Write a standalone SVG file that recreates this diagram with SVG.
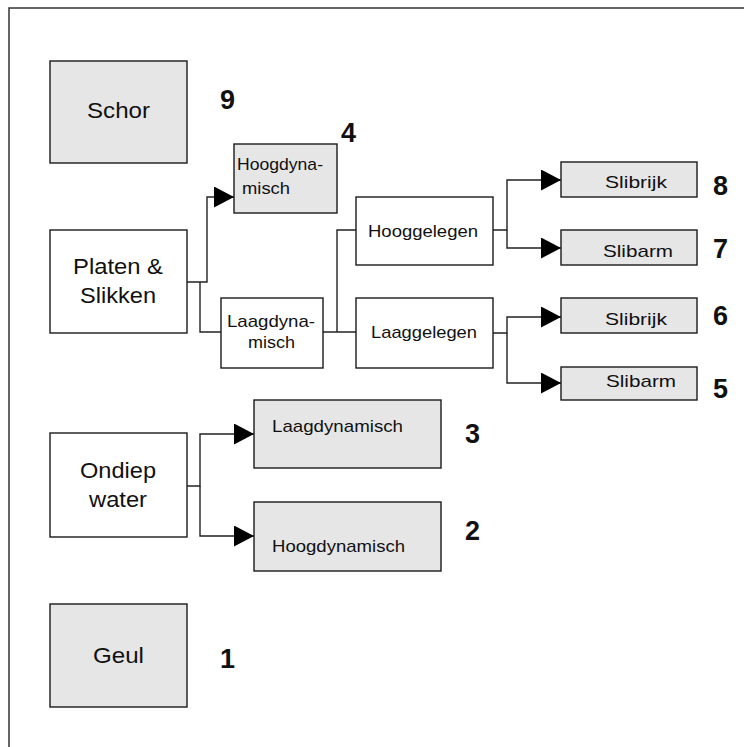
<svg xmlns="http://www.w3.org/2000/svg" width="744" height="747" viewBox="0 0 744 747">
<style>
.b{fill:#fff;stroke:#1a1a1a;stroke-width:1.4}
.g{fill:#e6e6e6;stroke:#1a1a1a;stroke-width:1.4}
.t{font-family:"Liberation Sans",Arial,sans-serif;fill:#111}
.s{font-size:17px}
.l{font-size:22px}
.n{font-family:"Liberation Sans",Arial,sans-serif;font-weight:bold;font-size:27px;fill:#111}
.c{fill:none;stroke:#222;stroke-width:1.4}
</style>
<defs>
<marker id="ah" markerWidth="20" markerHeight="21" refX="20" refY="10.5" orient="auto" markerUnits="userSpaceOnUse">
<path d="M0,0 L20,10.5 L0,21 Z" fill="#000"/>
</marker>
</defs>
<rect width="744" height="747" fill="#fff"/>
<path d="M9,747 V8 H744" fill="none" stroke="#333" stroke-width="1.5"/>
<g id="connectors">
<path class="c" d="M187,282 H207 V197 H234" marker-end="url(#ah)"/>
<path class="c" d="M200,282 V332 H221"/>
<path class="c" d="M323,332 H356"/>
<path class="c" d="M337,332 V230 H356"/>
<path class="c" d="M493,230 H507 V180 H561" marker-end="url(#ah)"/>
<path class="c" d="M507,230 V248 H561" marker-end="url(#ah)"/>
<path class="c" d="M493,333 H507 V317 H561" marker-end="url(#ah)"/>
<path class="c" d="M507,333 V383 H561" marker-end="url(#ah)"/>
<path class="c" d="M187,486 H200 V434 H254" marker-end="url(#ah)"/>
<path class="c" d="M200,486 V536 H254" marker-end="url(#ah)"/>
</g>
<g id="schor">
<rect class="g" x="50" y="61" width="137" height="102"/>
<text class="t l" x="87" y="118" textLength="63" lengthAdjust="spacingAndGlyphs">Schor</text>
<text class="n" x="220" y="109">9</text>
</g>
<g id="hoogdyna">
<rect class="g" x="234" y="144" width="103" height="69"/>
<text class="t s" x="237" y="170" textLength="86" lengthAdjust="spacingAndGlyphs">Hoogdyna-</text>
<text class="t s" x="242" y="194" textLength="48" lengthAdjust="spacingAndGlyphs">misch</text>
<text class="n" x="341" y="142">4</text>
</g>
<g id="platen">
<rect class="b" x="50" y="230" width="137" height="103"/>
<text class="t l" x="73" y="274" textLength="90" lengthAdjust="spacingAndGlyphs">Platen &amp;</text>
<text class="t l" x="80" y="303" textLength="76" lengthAdjust="spacingAndGlyphs">Slikken</text>
</g>
<g id="laagdyna">
<rect class="b" x="221" y="298" width="102" height="70"/>
<text class="t s" x="227" y="327" textLength="88" lengthAdjust="spacingAndGlyphs">Laagdyna-</text>
<text class="t s" x="248" y="348" textLength="47" lengthAdjust="spacingAndGlyphs">misch</text>
</g>
<g id="hooggelegen">
<rect class="b" x="356" y="197" width="137" height="68"/>
<text class="t s" x="368" y="237" textLength="110" lengthAdjust="spacingAndGlyphs">Hooggelegen</text>
</g>
<g id="laaggelegen">
<rect class="b" x="356" y="298" width="137" height="70"/>
<text class="t s" x="371" y="338" textLength="106" lengthAdjust="spacingAndGlyphs">Laaggelegen</text>
</g>
<g id="slibrijk8">
<rect class="g" x="561" y="162" width="136" height="35"/>
<text class="t s" x="605" y="188" textLength="62" lengthAdjust="spacingAndGlyphs">Slibrijk</text>
<text class="n" x="713" y="195">8</text>
</g>
<g id="slibarm7">
<rect class="g" x="561" y="230" width="136" height="35"/>
<text class="t s" x="603" y="257" textLength="70" lengthAdjust="spacingAndGlyphs">Slibarm</text>
<text class="n" x="713" y="258">7</text>
</g>
<g id="slibrijk6">
<rect class="g" x="561" y="298" width="136" height="35"/>
<text class="t s" x="605" y="325" textLength="62" lengthAdjust="spacingAndGlyphs">Slibrijk</text>
<text class="n" x="713" y="325">6</text>
</g>
<g id="slibarm5">
<rect class="g" x="561" y="367" width="136" height="33"/>
<text class="t s" x="606" y="387" textLength="70" lengthAdjust="spacingAndGlyphs">Slibarm</text>
<text class="n" x="713" y="398">5</text>
</g>
<g id="ondiep">
<rect class="b" x="50" y="433" width="137" height="104"/>
<text class="t l" x="80" y="478" textLength="76" lengthAdjust="spacingAndGlyphs">Ondiep</text>
<text class="t l" x="89" y="507" textLength="58" lengthAdjust="spacingAndGlyphs">water</text>
</g>
<g id="laagdynamisch3">
<rect class="g" x="254" y="400" width="187" height="68"/>
<text class="t s" x="272" y="432" textLength="131" lengthAdjust="spacingAndGlyphs">Laagdynamisch</text>
<text class="n" x="465" y="443">3</text>
</g>
<g id="hoogdynamisch2">
<rect class="g" x="254" y="502" width="187" height="69"/>
<text class="t s" x="272" y="552" textLength="133" lengthAdjust="spacingAndGlyphs">Hoogdynamisch</text>
<text class="n" x="465" y="540">2</text>
</g>
<g id="geul">
<rect class="g" x="50" y="604" width="137" height="103"/>
<text class="t l" x="93" y="663" textLength="51" lengthAdjust="spacingAndGlyphs">Geul</text>
<text class="n" x="220" y="668">1</text>
</g>
</svg>
